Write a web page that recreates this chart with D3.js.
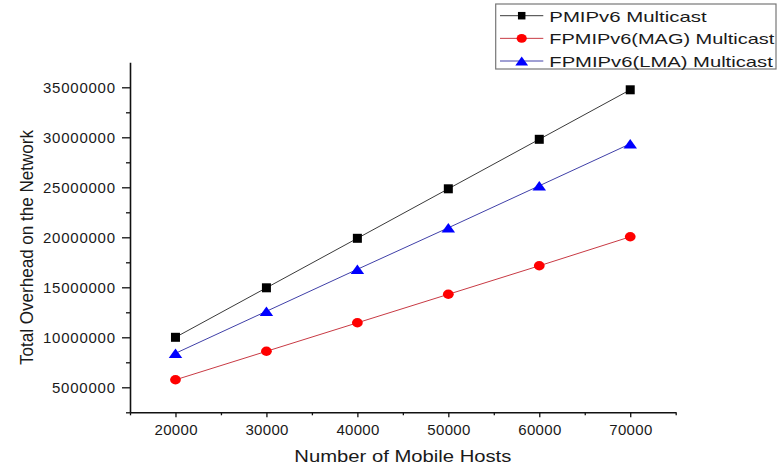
<!DOCTYPE html>
<html><head><meta charset="utf-8">
<script src="https://cdn.jsdelivr.net/npm/d3@7"></script>
<style>
body{margin:0;background:#fff}
text{font-family:"Liberation Sans",Arial,sans-serif;fill:#1a1a1a}
</style>
</head><body>
<svg id="c" width="782" height="470"></svg>
<script>
// ---- data ----
const hosts = [20000, 30000, 40000, 50000, 60000, 70000];
const pmipv6 = [10000000, 14950000, 19900000, 24850000, 29800000, 34750000];
const fpmipMag = [5750000, 8600000, 11450000, 14300000, 17150000, 20050000];
const fpmipLma = [8400000, 12600000, 16800000, 20950000, 25150000, 29350000];
const seriesNames = ["PMIPv6 Multicast", "FPMIPv6(MAG) Multicast", "FPMIPv6(LMA) Multicast"];
const xTicks = [20000, 30000, 40000, 50000, 60000, 70000];
const xMinorTicks = [15000, 25000, 35000, 45000, 55000, 65000, 75000];
const yTicks = [5000000, 10000000, 15000000, 20000000, 25000000, 30000000, 35000000];
const yMinorTicks = [2500000, 7500000, 12500000, 17500000, 22500000, 27500000, 32500000];
const xTitle = "Number of Mobile Hosts";
const yTitle = "Total Overhead on the Network";

// ---- layout / style ----
const L = 130, R = 675.7, T = 62.3, B = 412.3;
const svg = d3.select("#c");
const x = d3.scaleLinear().domain([15000, 75000]).range([L, R]);
const y = d3.scaleLinear().domain([2500000, 37500000]).range([B, T]);

const styles = [
  {line: "#3a3a3a", fill: "#000000", shape: "square"},
  {line: "#c83a44", fill: "#ff0000", shape: "circle"},
  {line: "#4040a8", fill: "#0000ff", shape: "triangle"}
];
const data = [pmipv6, fpmipMag, fpmipLma];

// axes
const gy = svg.append("g").attr("transform", `translate(${L},0)`)
  .call(d3.axisLeft(y).tickValues(yTicks).tickSize(8).tickPadding(7).tickSizeOuter(0).tickFormat(d3.format("d")));
const gyMinor = svg.append("g").attr("transform", `translate(${L},0)`)
  .call(d3.axisLeft(y).tickValues(yMinorTicks).tickSize(4).tickSizeOuter(0).tickFormat(""));
gyMinor.select(".domain").remove();
const gx = svg.append("g").attr("transform", `translate(0,${B})`)
  .call(d3.axisBottom(x).tickValues(xTicks).tickSize(5).tickPadding(7.3).tickSizeOuter(0).tickFormat(d3.format("d")));
const gxMinor = svg.append("g").attr("transform", `translate(0,${B})`)
  .call(d3.axisBottom(x).tickValues(xMinorTicks).tickSize(3).tickSizeOuter(0).tickFormat(""));
gxMinor.select(".domain").remove();

svg.selectAll(".domain").attr("stroke", "#111").attr("stroke-width", 1.6);
svg.selectAll(".tick line").attr("stroke", "#111").attr("stroke-width", 1.3);
gy.selectAll("text").attr("font-size", 15).attr("font-family", null).attr("fill", "#1a1a1a")
  .attr("dy", "0.36em")
  .each(function(){ const t = d3.select(this); t.attr("textLength", t.text().length * 9); });
gx.selectAll("text").attr("font-size", 15).attr("font-family", null).attr("fill", "#1a1a1a")
  .each(function(){ const t = d3.select(this); t.attr("textLength", t.text().length * 8.6); });

// titles
svg.append("text").attr("x", (L + R) / 2).attr("y", 461.5).attr("text-anchor", "middle")
  .attr("font-size", 17).attr("textLength", 217).attr("lengthAdjust", "spacingAndGlyphs").text(xTitle);
svg.append("text").attr("transform", "translate(33,247.5) rotate(-90)").attr("text-anchor", "middle")
  .attr("font-size", 18).attr("textLength", 235).attr("lengthAdjust", "spacingAndGlyphs").text(yTitle);

// markers
function marker(g, shape, fill, s) {
  if (shape === "square") {
    g.append("rect").attr("x", -s / 2).attr("y", -s / 2).attr("width", s).attr("height", s).attr("fill", fill);
  } else if (shape === "circle") {
    g.append("ellipse").attr("rx", s * 0.6).attr("ry", s * 0.52).attr("fill", fill);
  } else {
    const w = s * 0.75, h = s * 0.52;
    g.append("path").attr("d", `M0,${-h}L${w},${h}L${-w},${h}Z`).attr("fill", fill);
  }
}

const line = d3.line().x((d, i) => x(hosts[i])).y(d => y(d));
data.forEach((vals, k) => {
  svg.append("path").datum(vals).attr("d", line).attr("fill", "none")
    .attr("stroke", styles[k].line).attr("stroke-width", 1);
});
data.forEach((vals, k) => {
  vals.forEach((v, i) => {
    const g = svg.append("g").attr("transform", `translate(${x(hosts[i])},${y(v)})`);
    marker(g, styles[k].shape, styles[k].fill, 9);
  });
});

// legend
const lg = svg.append("g");
lg.append("rect").attr("x", 495.7).attr("y", 4).attr("width", 280.3).attr("height", 65)
  .attr("fill", "#fff").attr("stroke", "#777").attr("stroke-width", 1.2);
const legendWidths = [157.4, 225, 223.5];
seriesNames.forEach((name, k) => {
  const cy = 15.7 + k * 22.65;
  lg.append("line").attr("x1", 500).attr("x2", 543.3).attr("y1", cy).attr("y2", cy)
    .attr("stroke", styles[k].line).attr("stroke-width", 1);
  const g = lg.append("g").attr("transform", `translate(521.7,${cy})`);
  marker(g, styles[k].shape, styles[k].fill, styles[k].shape === "square" ? 7.5 : 8.5);
  lg.append("text").attr("x", 549.3).attr("y", cy + 6).attr("font-size", 15)
    .attr("textLength", legendWidths[k]).attr("lengthAdjust", "spacingAndGlyphs").text(name);
});
</script>
</body></html>
